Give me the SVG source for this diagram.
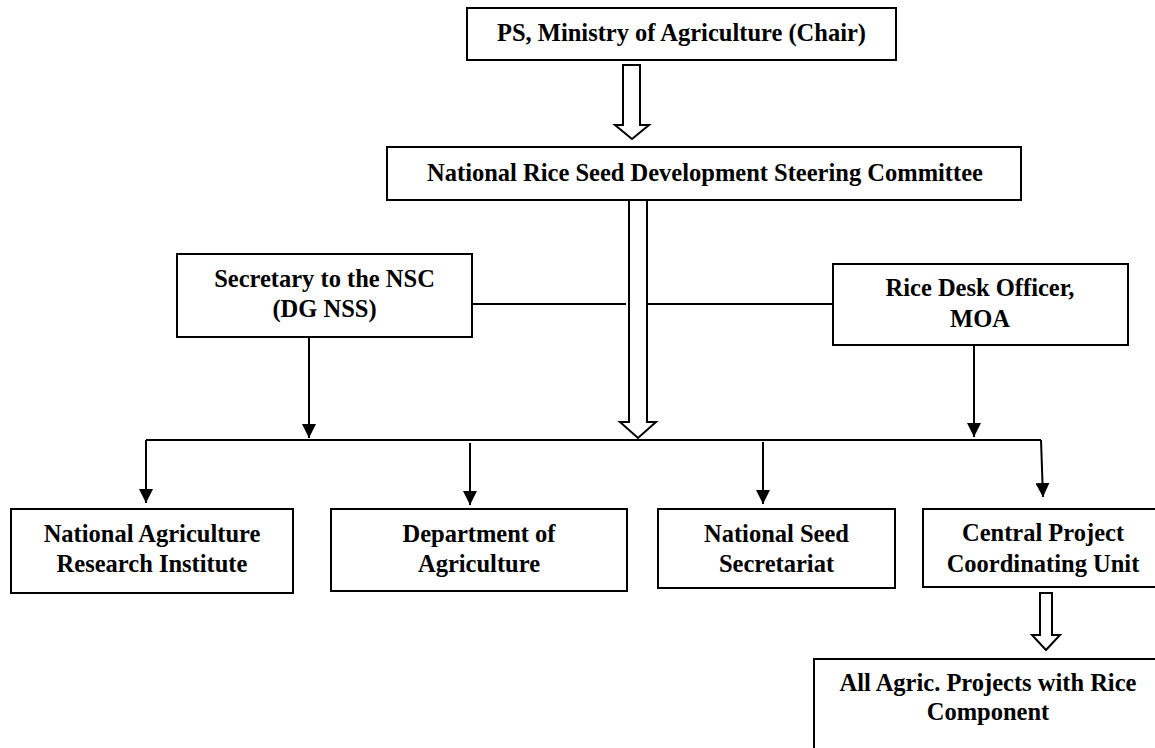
<svg xmlns="http://www.w3.org/2000/svg" width="1155" height="748" viewBox="0 0 1155 748">
  <style>
    .box { fill: #fff; stroke: #000; stroke-width: 2; }
    .lbl { font-family: "Liberation Serif", "Times New Roman", serif; font-weight: bold; font-size: 24.5px; fill: #000; text-anchor: middle; }
    .ln { fill: none; stroke: #000; stroke-width: 2; }
    .arr { fill: none; stroke: #000; stroke-width: 2; marker-end: url(#ah); }
    .hollow { fill: #fff; stroke: #000; stroke-width: 2; stroke-linejoin: miter; }
  </style>
  <defs>
    <marker id="ah" markerWidth="14" markerHeight="14" refX="14" refY="7" orient="auto" markerUnits="userSpaceOnUse">
      <path d="M0,0 L14,7 L0,14 z" fill="#000"/>
    </marker>
  </defs>
  <rect width="1155" height="748" fill="#fff"/>

  <g id="connectors">
    <!-- line between secretary and rice desk, broken at hollow shaft -->
    <path class="ln" d="M472,304 H626"/>
    <path class="ln" d="M645,304 H833"/>
    <!-- secretary and rice desk arrows -->
    <path class="arr" d="M309,337 V438"/>
    <path class="arr" d="M974,345 V437"/>
    <!-- distribution bar -->
    <path class="ln" d="M146,440 H1041"/>
    <path class="arr" d="M146,440 V503"/>
    <path class="arr" d="M470,443 V505"/>
    <path class="arr" d="M763,442 V504"/>
    <path class="arr" d="M1041,440 L1043,497"/>
    <!-- hollow arrows -->
    <path class="hollow" d="M623,65 H640 V125 H649 L632,139 L615,125 H623 Z"/>
    <path class="hollow" d="M629,198 H647 V422 H656 L638,438 L620,422 H629 Z"/>
    <path class="hollow" d="M1040,593 H1052 V635 H1060 L1046,650 L1032,635 H1040 Z"/>
  </g>

  <g id="ps">
    <rect class="box" x="467" y="8" width="429" height="52"/>
    <text class="lbl" x="681.5" y="41">PS, Ministry of Agriculture (Chair)</text>
  </g>

  <g id="nrsdsc">
    <rect class="box" x="387" y="147" width="634" height="53"/>
    <text class="lbl" x="705" y="181">National Rice Seed Development Steering Committee</text>
  </g>

  <g id="secretary">
    <rect class="box" x="177" y="254" width="295" height="83"/>
    <text class="lbl" x="324.5" y="287">Secretary to the NSC</text>
    <text class="lbl" x="324.5" y="317">(DG NSS)</text>
  </g>

  <g id="ricedesk">
    <rect class="box" x="833" y="264" width="295" height="81"/>
    <text class="lbl" x="980" y="296">Rice Desk Officer,</text>
    <text class="lbl" x="980" y="327">MOA</text>
  </g>

  <g id="nari">
    <rect class="box" x="11" y="509" width="282" height="84"/>
    <text class="lbl" x="152" y="542">National Agriculture</text>
    <text class="lbl" x="152" y="572">Research Institute</text>
  </g>

  <g id="doa">
    <rect class="box" x="331" y="509" width="296" height="82"/>
    <text class="lbl" x="479" y="542">Department of</text>
    <text class="lbl" x="479" y="572">Agriculture</text>
  </g>

  <g id="nss">
    <rect class="box" x="658" y="509" width="237" height="79"/>
    <text class="lbl" x="776.5" y="542">National Seed</text>
    <text class="lbl" x="776.5" y="572">Secretariat</text>
  </g>

  <g id="cpcu">
    <rect class="box" x="923" y="509" width="240" height="78"/>
    <text class="lbl" x="1043" y="541">Central Project</text>
    <text class="lbl" x="1043" y="572">Coordinating Unit</text>
  </g>

  <g id="projects">
    <rect class="box" x="814" y="659" width="350" height="100"/>
    <text class="lbl" x="988" y="691">All Agric. Projects with Rice</text>
    <text class="lbl" x="988" y="720">Component</text>
  </g>
</svg>
